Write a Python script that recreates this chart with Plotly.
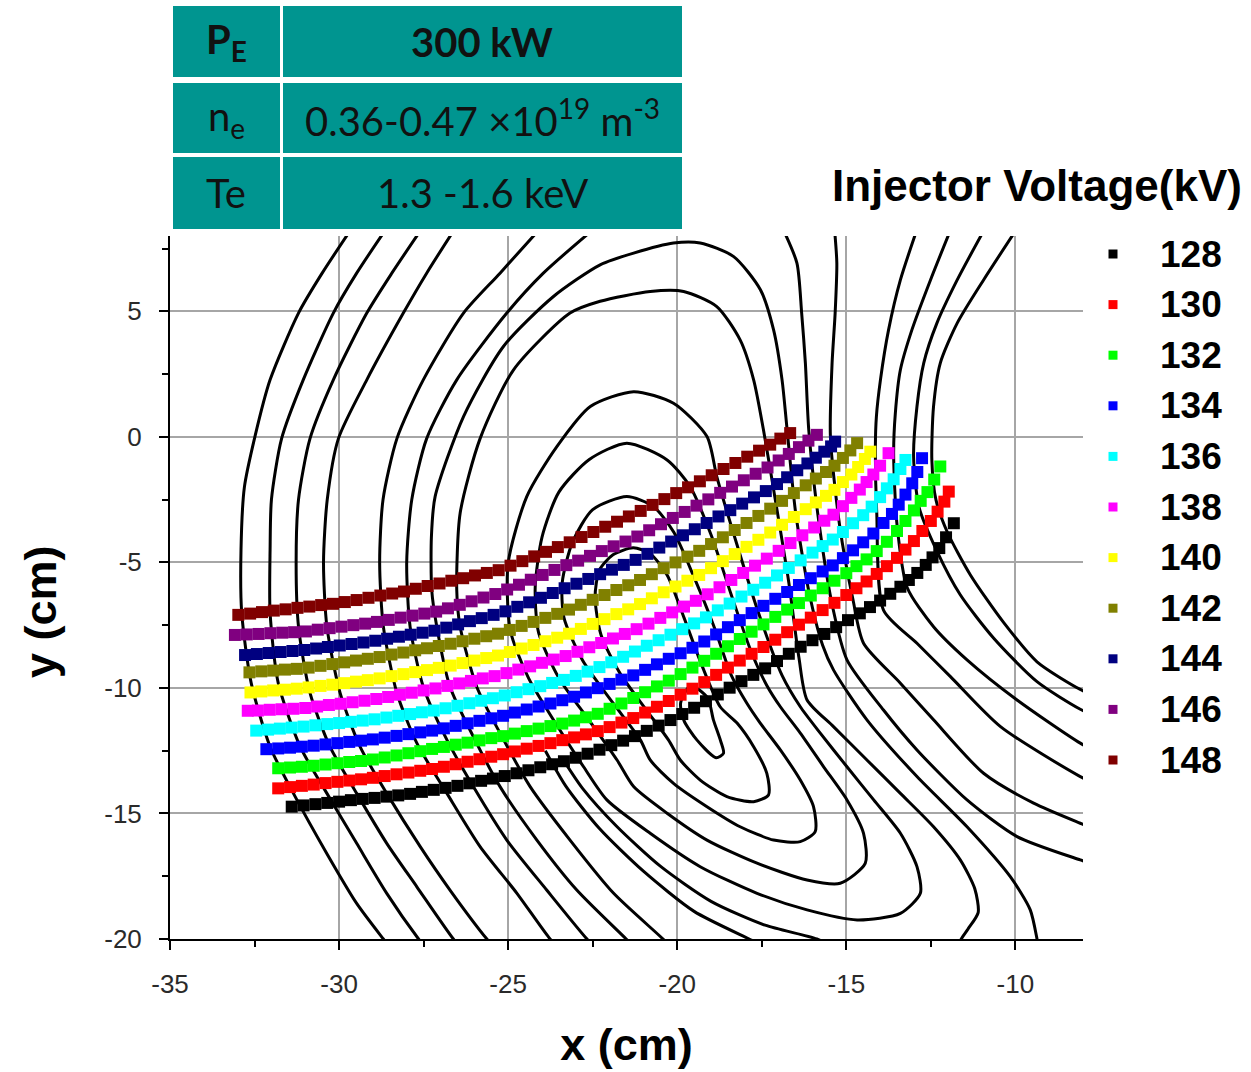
import plotly.graph_objects as go

# ---------------- data: injector voltage series (x, y in cm) ----------------
VOLTAGES = ["128", "130", "132", "134", "136", "138", "140", "142", "144", "146", "148"]
COLORS = ["#000000", "#ff0000", "#00ff00", "#0000ff", "#00ffff", "#ff00ff",
          "#ffff00", "#808000", "#000080", "#800080", "#800000"]

S128 = [(-31.4,-14.73),(-31.05,-14.68),(-30.7,-14.63),(-30.35,-14.58),(-30.0,-14.53),(-29.65,-14.47),
        (-29.3,-14.42),(-28.95,-14.38),(-28.6,-14.33),(-28.25,-14.28),(-27.9,-14.22),(-27.55,-14.14),
        (-27.2,-14.06),(-26.85,-13.98),(-26.5,-13.90),(-26.15,-13.80),(-25.8,-13.70),(-25.45,-13.61),
        (-25.1,-13.51),(-24.75,-13.40),(-24.4,-13.28),(-24.05,-13.16),(-23.7,-13.04),(-23.35,-12.92),
        (-23.0,-12.78),(-22.65,-12.62),(-22.3,-12.46),(-21.95,-12.28),(-21.6,-12.10),(-21.25,-11.92),
        (-20.9,-11.71),(-20.55,-11.50),(-20.2,-11.28),(-19.85,-11.04),(-19.5,-10.79),(-19.15,-10.53),
        (-18.8,-10.26),(-18.45,-9.99),(-18.1,-9.73),(-17.75,-9.48),(-17.4,-9.22),(-17.05,-8.93),
        (-16.7,-8.64),(-16.35,-8.36),(-16.0,-8.10),(-15.65,-7.85),(-15.3,-7.58),(-14.95,-7.30),
        (-14.6,-7.03),(-14.3,-6.78),(-14.0,-6.52),(-13.7,-6.25),(-13.4,-5.97),(-13.15,-5.70),
        (-12.9,-5.42),(-12.65,-5.10),(-12.45,-4.80),(-12.25,-4.43),(-12.05,-4.00),(-11.82,-3.44)]

S130 = [(-31.8,-14.00),(-31.45,-13.95),(-31.1,-13.90),(-30.75,-13.85),(-30.4,-13.79),(-30.05,-13.74),
        (-29.7,-13.69),(-29.35,-13.64),(-29.0,-13.58),(-28.65,-13.51),(-28.3,-13.44),(-27.95,-13.37),
        (-27.6,-13.30),(-27.25,-13.23),(-26.9,-13.14),(-26.55,-13.04),(-26.2,-12.94),(-25.85,-12.84),
        (-25.5,-12.74),(-25.15,-12.64),(-24.8,-12.53),(-24.45,-12.42),(-24.1,-12.31),(-23.75,-12.20),
        (-23.4,-12.08),(-23.05,-11.97),(-22.7,-11.85),(-22.35,-11.72),(-22.0,-11.56),(-21.65,-11.38),
        (-21.3,-11.20),(-20.95,-10.98),(-20.6,-10.75),(-20.25,-10.52),(-19.9,-10.27),(-19.55,-10.03),
        (-19.2,-9.77),(-18.85,-9.48),(-18.5,-9.19),(-18.15,-8.91),(-17.8,-8.64),(-17.45,-8.37),
        (-17.1,-8.08),(-16.75,-7.78),(-16.4,-7.48),(-16.05,-7.20),(-15.7,-6.90),(-15.35,-6.61),
        (-15.0,-6.30),(-14.7,-6.03),(-14.4,-5.76),(-14.1,-5.46),(-13.8,-5.15),(-13.5,-4.82),
        (-13.25,-4.49),(-13.0,-4.15),(-12.75,-3.75),(-12.5,-3.35),(-12.3,-2.98),(-12.1,-2.58),
        (-11.97,-2.18)]

S132 = [(-31.8,-13.20),(-31.45,-13.17),(-31.1,-13.14),(-30.75,-13.10),(-30.4,-13.05),(-30.05,-13.00),
        (-29.7,-12.95),(-29.35,-12.91),(-29.0,-12.85),(-28.65,-12.77),(-28.3,-12.69),(-27.95,-12.60),
        (-27.6,-12.52),(-27.25,-12.43),(-26.9,-12.35),(-26.55,-12.26),(-26.2,-12.18),(-25.85,-12.09),
        (-25.5,-12.00),(-25.15,-11.92),(-24.8,-11.82),(-24.45,-11.72),(-24.1,-11.62),(-23.75,-11.52),
        (-23.4,-11.42),(-23.05,-11.30),(-22.7,-11.17),(-22.35,-11.03),(-22.0,-10.83),(-21.65,-10.62),
        (-21.3,-10.40),(-20.95,-10.17),(-20.6,-9.94),(-20.25,-9.71),(-19.9,-9.45),(-19.55,-9.19),
        (-19.2,-8.92),(-18.85,-8.64),(-18.5,-8.34),(-18.15,-8.05),(-17.8,-7.76),(-17.45,-7.47),
        (-17.1,-7.17),(-16.75,-6.88),(-16.4,-6.62),(-16.05,-6.32),(-15.7,-6.03),(-15.35,-5.73),
        (-15.0,-5.43),(-14.7,-5.15),(-14.4,-4.88),(-14.1,-4.55),(-13.8,-4.18),(-13.5,-3.75),
        (-13.25,-3.35),(-13.0,-2.93),(-12.8,-2.55),(-12.6,-2.20),(-12.4,-1.70),(-12.22,-1.18)]

S134 = [(-32.15,-12.44),(-31.8,-12.41),(-31.45,-12.38),(-31.1,-12.34),(-30.75,-12.30),(-30.4,-12.25),
        (-30.05,-12.20),(-29.7,-12.15),(-29.35,-12.10),(-29.0,-12.05),(-28.65,-11.98),(-28.3,-11.91),
        (-27.95,-11.84),(-27.6,-11.77),(-27.25,-11.70),(-26.9,-11.61),(-26.55,-11.51),(-26.2,-11.41),
        (-25.85,-11.31),(-25.5,-11.21),(-25.15,-11.11),(-24.8,-10.98),(-24.45,-10.86),(-24.1,-10.74),
        (-23.75,-10.62),(-23.4,-10.49),(-23.05,-10.35),(-22.7,-10.18),(-22.35,-10.01),(-22.0,-9.84),
        (-21.65,-9.67),(-21.3,-9.50),(-20.95,-9.28),(-20.6,-9.06),(-20.25,-8.84),(-19.9,-8.62),
        (-19.55,-8.40),(-19.2,-8.15),(-18.85,-7.87),(-18.5,-7.58),(-18.15,-7.30),(-17.8,-7.02),
        (-17.45,-6.73),(-17.1,-6.45),(-16.75,-6.18),(-16.4,-5.90),(-16.05,-5.63),(-15.7,-5.36),
        (-15.4,-5.12),(-15.1,-4.83),(-14.8,-4.52),(-14.5,-4.20),(-14.2,-3.85),(-13.9,-3.43),
        (-13.65,-3.07),(-13.45,-2.70),(-13.25,-2.30),(-13.05,-1.85),(-12.9,-1.40),(-12.76,-0.85)]

S136 = [(-32.45,-11.70),(-32.1,-11.66),(-31.75,-11.62),(-31.4,-11.58),(-31.05,-11.54),(-30.7,-11.49),
        (-30.35,-11.44),(-30.0,-11.40),(-29.65,-11.35),(-29.3,-11.30),(-28.95,-11.25),(-28.6,-11.18),
        (-28.25,-11.11),(-27.9,-11.04),(-27.55,-10.97),(-27.2,-10.90),(-26.85,-10.81),(-26.5,-10.71),
        (-26.15,-10.61),(-25.8,-10.51),(-25.45,-10.41),(-25.1,-10.30),(-24.75,-10.17),(-24.4,-10.05),
        (-24.05,-9.93),(-23.7,-9.80),(-23.35,-9.68),(-23.0,-9.52),(-22.65,-9.35),(-22.3,-9.17),
        (-21.95,-8.98),(-21.6,-8.76),(-21.25,-8.55),(-20.9,-8.32),(-20.55,-8.10),(-20.2,-7.88),
        (-19.85,-7.66),(-19.5,-7.43),(-19.15,-7.19),(-18.8,-6.91),(-18.45,-6.64),(-18.1,-6.36),
        (-17.75,-6.09),(-17.4,-5.81),(-17.05,-5.52),(-16.7,-5.22),(-16.35,-4.92),(-16.0,-4.61),
        (-15.7,-4.35),(-15.4,-4.09),(-15.1,-3.79),(-14.8,-3.44),(-14.5,-3.12),(-14.25,-2.78),
        (-14.0,-2.40),(-13.8,-2.05),(-13.6,-1.69),(-13.4,-1.28),(-13.25,-0.92)]

S138 = [(-32.7,-10.91),(-32.4,-10.90),(-32.05,-10.87),(-31.7,-10.85),(-31.35,-10.83),(-31.0,-10.80),
        (-30.65,-10.74),(-30.3,-10.68),(-29.95,-10.63),(-29.6,-10.57),(-29.25,-10.51),(-28.9,-10.44),
        (-28.55,-10.36),(-28.2,-10.27),(-27.85,-10.19),(-27.5,-10.10),(-27.15,-10.02),(-26.8,-9.92),
        (-26.45,-9.82),(-26.1,-9.72),(-25.75,-9.62),(-25.4,-9.53),(-25.05,-9.41),(-24.7,-9.27),
        (-24.35,-9.14),(-24.0,-9.00),(-23.65,-8.87),(-23.3,-8.73),(-22.95,-8.56),(-22.6,-8.38),
        (-22.25,-8.21),(-21.9,-8.03),(-21.55,-7.85),(-21.2,-7.66),(-20.85,-7.44),(-20.5,-7.21),
        (-20.15,-6.99),(-19.8,-6.76),(-19.45,-6.53),(-19.1,-6.27),(-18.75,-5.99),(-18.4,-5.70),
        (-18.05,-5.42),(-17.7,-5.13),(-17.35,-4.85),(-17.0,-4.54),(-16.65,-4.23),(-16.3,-3.92),
        (-15.95,-3.61),(-15.65,-3.34),(-15.38,-3.10),(-15.1,-2.76),(-14.85,-2.43),(-14.6,-2.10),
        (-14.4,-1.80),(-14.2,-1.50),(-14.0,-1.15),(-13.75,-0.65)]

S140 = [(-32.62,-10.18),(-32.3,-10.14),(-31.95,-10.10),(-31.6,-10.07),(-31.25,-10.03),(-30.9,-9.98),
        (-30.55,-9.92),(-30.2,-9.87),(-29.85,-9.81),(-29.5,-9.75),(-29.15,-9.69),(-28.8,-9.62),
        (-28.45,-9.53),(-28.1,-9.45),(-27.75,-9.37),(-27.4,-9.29),(-27.05,-9.20),(-26.7,-9.11),
        (-26.35,-9.01),(-26.0,-8.91),(-25.65,-8.81),(-25.3,-8.71),(-24.95,-8.57),(-24.6,-8.43),
        (-24.25,-8.29),(-23.9,-8.14),(-23.55,-8.00),(-23.2,-7.84),(-22.85,-7.65),(-22.5,-7.45),
        (-22.15,-7.26),(-21.8,-7.06),(-21.45,-6.87),(-21.1,-6.66),(-20.75,-6.43),(-20.4,-6.19),
        (-20.05,-5.96),(-19.7,-5.73),(-19.35,-5.50),(-19.0,-5.23),(-18.65,-4.95),(-18.3,-4.67),
        (-17.95,-4.38),(-17.6,-4.10),(-17.25,-3.81),(-16.9,-3.50),(-16.55,-3.19),(-16.2,-2.88),
        (-15.9,-2.61),(-15.6,-2.35),(-15.35,-2.11),(-15.1,-1.80),(-14.85,-1.50),(-14.65,-1.20),
        (-14.45,-0.88),(-14.29,-0.59)]

S142 = [(-32.65,-9.38),(-32.3,-9.34),(-31.95,-9.31),(-31.6,-9.27),(-31.25,-9.24),(-30.9,-9.19),
        (-30.55,-9.12),(-30.2,-9.05),(-29.85,-8.98),(-29.5,-8.91),(-29.15,-8.84),(-28.8,-8.77),
        (-28.45,-8.67),(-28.1,-8.59),(-27.75,-8.50),(-27.4,-8.42),(-27.05,-8.33),(-26.7,-8.24),
        (-26.35,-8.14),(-26.0,-8.04),(-25.65,-7.94),(-25.3,-7.84),(-24.95,-7.69),(-24.6,-7.53),
        (-24.25,-7.37),(-23.9,-7.21),(-23.55,-7.05),(-23.2,-6.88),(-22.85,-6.69),(-22.5,-6.49),
        (-22.15,-6.30),(-21.8,-6.10),(-21.45,-5.91),(-21.1,-5.70),(-20.75,-5.47),(-20.4,-5.23),
        (-20.05,-5.00),(-19.7,-4.77),(-19.35,-4.54),(-19.0,-4.27),(-18.65,-4.00),(-18.3,-3.71),
        (-17.95,-3.43),(-17.6,-3.15),(-17.25,-2.86),(-16.9,-2.55),(-16.55,-2.24),(-16.2,-1.93),
        (-15.9,-1.66),(-15.6,-1.40),(-15.35,-1.15),(-15.1,-0.84),(-14.88,-0.54),(-14.68,-0.25)]

S144 = [(-32.78,-8.69),(-32.43,-8.65),(-32.08,-8.61),(-31.73,-8.57),(-31.38,-8.53),(-31.03,-8.49),
        (-30.68,-8.43),(-30.33,-8.37),(-29.98,-8.31),(-29.63,-8.25),(-29.28,-8.19),(-28.93,-8.12),
        (-28.58,-8.04),(-28.23,-7.96),(-27.88,-7.88),(-27.53,-7.80),(-27.18,-7.72),(-26.83,-7.60),
        (-26.48,-7.47),(-26.13,-7.34),(-25.78,-7.22),(-25.43,-7.09),(-25.08,-6.95),(-24.73,-6.77),
        (-24.38,-6.59),(-24.03,-6.41),(-23.68,-6.22),(-23.33,-6.03),(-22.98,-5.85),(-22.63,-5.66),
        (-22.28,-5.47),(-21.93,-5.29),(-21.58,-5.10),(-21.23,-4.90),(-20.88,-4.66),(-20.53,-4.41),
        (-20.18,-4.17),(-19.83,-3.92),(-19.48,-3.68),(-19.13,-3.43),(-18.78,-3.17),(-18.43,-2.92),
        (-18.08,-2.66),(-17.73,-2.41),(-17.38,-2.16),(-17.05,-1.88),(-16.75,-1.61),(-16.45,-1.33),
        (-16.15,-1.06),(-15.9,-0.83),(-15.65,-0.59),(-15.45,-0.38),(-15.33,-0.19)]

S146 = [(-33.08,-7.89),(-32.73,-7.87),(-32.38,-7.85),(-32.03,-7.82),(-31.68,-7.80),(-31.33,-7.78),
        (-30.98,-7.75),(-30.63,-7.68),(-30.28,-7.62),(-29.93,-7.56),(-29.58,-7.50),(-29.23,-7.44),
        (-28.88,-7.37),(-28.53,-7.29),(-28.18,-7.20),(-27.83,-7.12),(-27.48,-7.04),(-27.13,-6.96),
        (-26.78,-6.83),(-26.43,-6.69),(-26.08,-6.55),(-25.73,-6.40),(-25.38,-6.26),(-25.03,-6.08),
        (-24.68,-5.89),(-24.33,-5.69),(-23.98,-5.50),(-23.63,-5.30),(-23.28,-5.11),(-22.93,-4.93),
        (-22.58,-4.74),(-22.23,-4.55),(-21.88,-4.36),(-21.53,-4.17),(-21.18,-3.97),(-20.83,-3.72),
        (-20.48,-3.48),(-20.13,-3.23),(-19.78,-2.99),(-19.43,-2.74),(-19.08,-2.49),(-18.73,-2.23),
        (-18.38,-1.98),(-18.03,-1.73),(-17.68,-1.47),(-17.33,-1.22),(-17.0,-0.94),(-16.7,-0.68),
        (-16.4,-0.41),(-16.12,-0.15),(-15.87,0.08)]

S148 = [(-32.98,-7.09),(-32.63,-7.04),(-32.28,-6.98),(-31.93,-6.92),(-31.58,-6.87),(-31.23,-6.81),
        (-30.88,-6.76),(-30.53,-6.70),(-30.18,-6.65),(-29.83,-6.58),(-29.48,-6.50),(-29.13,-6.41),
        (-28.78,-6.32),(-28.43,-6.24),(-28.08,-6.16),(-27.73,-6.05),(-27.38,-5.94),(-27.03,-5.84),
        (-26.68,-5.73),(-26.33,-5.63),(-25.98,-5.52),(-25.63,-5.42),(-25.28,-5.31),(-24.93,-5.13),
        (-24.58,-4.95),(-24.23,-4.76),(-23.88,-4.58),(-23.53,-4.39),(-23.18,-4.20),(-22.83,-3.99),
        (-22.48,-3.79),(-22.13,-3.58),(-21.78,-3.38),(-21.43,-3.17),(-21.08,-2.95),(-20.73,-2.71),
        (-20.38,-2.48),(-20.03,-2.24),(-19.68,-2.01),(-19.33,-1.77),(-18.98,-1.53),(-18.63,-1.28),
        (-18.28,-1.04),(-17.93,-0.79),(-17.58,-0.55),(-17.25,-0.31),(-16.95,-0.07),(-16.66,0.15)]

SERIES = [S128, S130, S132, S134, S136, S138, S140, S142, S144, S146, S148]

# ---------------- data: background field lines (traced, cm) ----------------
C1 = [(-29.63,8.3),(-30.51,6.5),(-31.2,4.93),(-32.04,2.27),(-32.49,0.0),(-32.8,-2.0),(-32.9,-4.5),
      (-32.88,-7.0),(-32.6,-9.8),(-32.04,-12.34),(-31.35,-14.2),(-30.36,-16.6),(-29.48,-18.58),
      (-28.69,-20.0),(-28.4,-20.5)]
C2 = [(-28.6,8.3),(-29.48,6.52),(-30.17,4.93),(-31.06,2.27),(-31.7,-0.07),(-32.0,-2.5),(-32.04,-4.5),
      (-32.04,-7.0),(-31.8,-9.8),(-31.15,-12.34),(-30.36,-14.2),(-29.48,-16.19),(-28.59,-18.18),
      (-27.65,-20.0),(-27.35,-20.5)]
C3 = [(-27.55,8.3),(-28.44,6.52),(-29.18,4.93),(-30.17,2.27),(-30.86,-0.07),(-31.2,-2.5),(-31.27,-5.0),
      (-31.2,-7.56),(-30.86,-10.2),(-30.27,-12.34),(-29.48,-14.2),(-28.59,-16.19),(-27.70,-17.92),
      (-26.62,-20.0),(-26.3,-20.5)]
C4 = [(-26.57,8.3),(-27.41,6.52),(-28.10,4.93),(-29.18,2.27),(-30.02,-0.07),(-30.35,-2.5),(-30.46,-5.0),
      (-30.36,-7.56),(-29.97,-10.2),(-29.38,-12.34),(-28.59,-14.2),(-27.6,-16.32),(-26.72,-18.05),
      (-25.63,-20.0),(-25.3,-20.5)]
C5 = [(-24.05,8.3),(-25.24,6.52),(-26.32,4.93),(-27.51,2.27),(-28.29,-0.07),(-28.7,-2.5),(-28.8,-5.0),
      (-28.69,-7.56),(-28.29,-10.2),(-27.70,-12.2),(-26.81,-14.2),(-25.83,-16.32),(-24.74,-18.18),
      (-23.76,-20.0),(-23.4,-20.5)]
C6 = [(-22.45,8.3),(-23.96,6.52),(-25.04,4.93),(-26.52,2.27),(-27.41,-0.07),(-27.85,-2.5),(-28.0,-5.0),
      (-27.9,-7.56),(-27.51,-9.95),(-26.81,-12.07),(-26.03,-13.93),(-25.04,-16.06),(-23.86,-18.05),
      (-22.67,-20.0),(-22.3,-20.5)]
CA = [(-21.14,-20.5),(-21.51,-20.0),(-22.97,-18.05),(-24.15,-16.06),(-25.24,-13.93),(-26.03,-11.94),
      (-26.72,-9.95),(-27.11,-7.56),(-27.26,-6.1),(-27.27,-4.0),(-27.16,-2.38),(-26.32,0.81),
      (-25.14,3.6),(-23.66,5.59),(-22.28,6.85),(-21.29,7.32),(-20.11,7.72),(-19.32,7.72),(-18.33,7.18),
      (-17.54,5.86),(-17.15,4.26),(-16.9,2.27),(-16.75,0.28),(-16.5,-3.0),(-16.1,-6.2),(-15.7,-8.3),
      (-15.38,-9.28),(-14.39,-11.27),(-12.91,-13.53),(-11.43,-15.53),(-10.15,-17.52),(-9.56,-18.84),
      (-9.36,-20.0),(-9.3,-20.5)]
CB = [(-20.05,-20.5),(-20.42,-20.0),(-21.88,-18.18),(-23.17,-16.06),(-24.35,-13.93),(-25.24,-11.8),
      (-25.93,-9.95),(-26.42,-7.56),(-26.52,-6.1),(-26.42,-3.04),(-25.83,-0.07),(-24.84,2.67),
      (-23.17,4.93),(-22.28,5.4),(-20.8,5.79),(-19.81,5.79),(-18.83,5.19),(-18.14,3.86),(-17.74,2.27),
      (-17.45,0.28),(-17.1,-2.5),(-16.7,-5.8),(-16.4,-8.8),(-16.16,-10.48),(-15.38,-11.54),
      (-14.39,-12.87),(-13.4,-14.2),(-12.42,-15.53),(-11.63,-16.85),(-11.2,-18.0),(-11.1,-18.95),
      (-11.4,-19.6),(-11.6,-20.0),(-11.75,-20.5)]
CC = [(-21.29,1.8),(-20.11,1.34),(-19.12,0.01),(-18.83,-1.58),(-18.3,-4.0),(-17.6,-7.0),(-16.9,-9.5),
      (-16.36,-10.75),(-15.77,-11.8),(-14.98,-13.14),(-14.19,-14.46),(-13.4,-15.79),(-12.91,-17.12),
      (-12.81,-18.18),(-13.4,-18.98),(-14.68,-19.24),(-16.16,-18.84),(-17.64,-18.18),(-19.32,-17.12),
      (-20.8,-15.79),(-22.08,-14.46),(-22.77,-13.14),(-23.6,-11.4),(-24.4,-9.6),(-24.94,-7.69),
      (-25.0,-5.03),(-24.45,-2.38),(-23.56,-0.39),(-22.57,1.21),(-21.29,1.8)]
CD = [(-21.49,-0.25),(-20.3,-0.92),(-19.62,-1.98),(-19.0,-3.9),(-18.4,-6.3),(-17.8,-8.6),(-17.35,-9.9),
      (-16.95,-10.75),(-16.36,-11.8),(-15.67,-13.14),(-14.98,-14.46),(-14.49,-15.79),(-14.44,-16.99),
      (-15.18,-17.78),(-16.16,-17.65),(-17.64,-16.98),(-19.12,-16.06),(-20.3,-14.99),(-21.29,-13.93),
      (-21.78,-12.87),(-22.6,-11.3),(-23.5,-9.6),(-24.1,-7.8),(-24.2,-6.0),(-24.0,-4.0),(-23.5,-2.2),
      (-22.6,-0.9),(-21.49,-0.25)]
CE = [(-21.49,-2.38),(-20.7,-2.78),(-20.1,-3.8),(-19.5,-5.6),(-18.9,-7.6),(-18.4,-9.5),(-17.94,-10.61),
      (-17.54,-11.41),(-16.95,-12.47),(-16.36,-13.67),(-15.97,-14.73),(-15.92,-15.72),(-16.36,-16.12),
      (-17.15,-16.06),(-18.14,-15.53),(-19.12,-14.73),(-20.11,-13.8),(-20.8,-12.87),(-21.09,-12.07),
      (-21.9,-10.6),(-22.8,-8.9),(-23.35,-7.2),(-23.4,-5.8),(-23.1,-4.2),(-22.5,-2.9),(-21.49,-2.38)]
CF = [(-21.3,-4.42),(-20.8,-4.65),(-20.3,-5.5),(-19.8,-7.2),(-19.3,-9.0),(-18.73,-10.75),(-18.23,-11.4),
      (-17.74,-12.34),(-17.35,-13.4),(-17.3,-14.26),(-17.74,-14.53),(-18.53,-14.33),(-19.32,-13.67),
      (-19.91,-12.87),(-20.26,-12.07),(-20.9,-10.9),(-21.7,-9.4),(-22.25,-7.9),(-22.43,-6.4),
      (-22.3,-5.3),(-21.9,-4.7),(-21.3,-4.42)]
CU1 = [(-19.6,-9.9),(-19.1,-10.4),(-18.93,-11.27),(-18.72,-12.1),(-18.63,-12.6),(-18.85,-12.78),
       (-19.42,-12.07),(-19.8,-11.3),(-19.9,-10.6),(-19.6,-9.9)]
R1 = [(-16.88,8.3),(-16.46,6.92),(-16.32,4.93),(-16.21,2.94),(-16.11,0.28),(-15.8,-3.5),(-15.4,-6.8),
      (-14.98,-8.88),(-13.9,-10.88),(-12.91,-12.47),(-11.43,-14.46),(-9.95,-15.92),(-8.08,-16.85),
      (-7.5,-17.1)]
R2 = [(-15.35,8.3),(-15.28,6.92),(-15.33,4.93),(-15.42,2.94),(-15.47,0.01),(-15.2,-3.5),(-14.8,-6.5),
      (-14.49,-8.22),(-13.4,-9.81),(-12.42,-11.27),(-10.94,-13.4),(-9.46,-14.59),(-8.08,-15.39),
      (-7.5,-15.7)]
R3 = [(-12.9,8.3),(-13.40,6.25),(-13.75,4.26),(-13.99,2.27),(-14.11,0.81),(-14.14,-0.39),(-14.1,-3.0),
      (-13.9,-6.9),(-12.91,-8.22),(-11.92,-9.55),(-10.44,-11.54),(-8.08,-13.53),(-7.5,-13.9)]
R4 = [(-11.9,8.3),(-12.51,6.25),(-13.06,4.26),(-13.40,2.67),(-13.55,0.94),(-13.60,-0.65),(-13.5,-3.5),
      (-13.2,-6.0),(-12.42,-7.56),(-11.43,-8.88),(-9.95,-10.48),(-8.08,-12.2),(-7.5,-12.6)]
R5 = [(-10.9,8.3),(-11.72,6.25),(-12.32,4.53),(-12.71,2.94),(-12.91,1.21),(-13.01,-0.78),(-12.85,-2.8),
      (-12.32,-4.55),(-11.63,-6.29),(-10.64,-8.02),(-9.36,-9.75),(-8.08,-10.85),(-7.5,-11.2)]
R6 = [(-9.95,8.3),(-10.94,6.25),(-11.72,4.53),(-12.22,2.94),(-12.42,1.21),(-12.47,-0.92),(-12.35,-2.5),
      (-12.02,-3.77),(-11.33,-5.5),(-10.35,-7.39),(-9.36,-8.96),(-8.08,-10.06),(-7.5,-10.4)]
LA = [(-17.1,-20.5),(-17.87,-20.0),(-19.5,-18.9),(-21.0,-17.3),(-22.3,-15.6),(-23.3,-13.9),(-23.9,-12.5)]
LB = [(-15.1,-20.5),(-15.87,-20.0),(-17.4,-19.45),(-19.0,-18.5),(-20.5,-17.1),(-21.8,-15.5),
      (-22.8,-14.0),(-23.4,-12.8)]

CONTOURS = [C1, C2, C3, C4, C5, C6, CA, CB, CC, CD, CE, CF, CU1, R1, R2, R3, R4, R5, R6, LA, LB]

X_TICKS = [-35, -30, -25, -20, -15, -10]
Y_TICKS = [-20, -15, -10, -5, 0, 5]

# ---------------- figure ----------------
fig = go.Figure()
for c in CONTOURS:
    fig.add_trace(go.Scatter(
        x=[p[0] for p in c], y=[p[1] for p in c], mode="lines",
        line=dict(color="black", width=3, shape="spline", smoothing=0.7),
        hoverinfo="skip", showlegend=False))

for v, col, s in zip(VOLTAGES, COLORS, SERIES):
    fig.add_trace(go.Scatter(
        x=[p[0] for p in s], y=[p[1] for p in s], mode="markers", name=v,
        marker=dict(symbol="square", size=12, color=col, line=dict(width=0)),
        showlegend=False))

TICKFONT = dict(family="Liberation Sans Narrow, Arial Narrow, Liberation Sans, Arial", size=26, color="#2a2a2a")
TITLEFONT = dict(family="Liberation Sans, Arial", size=45, color="black")

fig.update_xaxes(
    range=[-35, -8], tickvals=X_TICKS, ticktext=[str(t) for t in X_TICKS],
    showgrid=True, gridcolor="#a6a6a6", gridwidth=1.6, zeroline=False,
    showline=True, linecolor="black", linewidth=2,
    ticks="outside", ticklen=9, tickwidth=1.6, tickcolor="black",
    minor=dict(ticks="outside", ticklen=6, tickwidth=1.6, tickcolor="black",
               tick0=-35, dtick=2.5, showgrid=False),
    tickfont=TICKFONT, ticklabelstandoff=12,
    title=dict(text="<b>x (cm)</b>", font=TITLEFONT, standoff=30), automargin=False)
fig.update_yaxes(
    range=[-20, 8], tickvals=Y_TICKS, ticktext=[str(t) for t in Y_TICKS],
    showgrid=True, gridcolor="#a6a6a6", gridwidth=1.6, zeroline=False,
    showline=True, linecolor="black", linewidth=2,
    ticks="outside", ticklen=9, tickwidth=1.6, tickcolor="black",
    minor=dict(ticks="outside", ticklen=6, tickwidth=1.6, tickcolor="black",
               tick0=-20, dtick=2.5, showgrid=False),
    tickfont=TICKFONT, ticklabelstandoff=12, automargin=False)

W, H = 1251, 1072
ML, MR, MT, MB = 170, 168, 236, 133
PW, PH = W - ML - MR, H - MT - MB


def px(xp):
    return (xp - ML) / PW


def py(yp):
    return (H - MB - yp) / PH


shapes = []
annotations = []

# y-axis title (placed to match the reference)
annotations.append(dict(xref="paper", yref="paper", x=px(40), y=py(612), text="<b>y (cm)</b>",
                        textangle=-90, showarrow=False, font=TITLEFONT,
                        xanchor="center", yanchor="middle"))

# parameter table (top-left)
TEAL = "#009590"
CELL_COLS = [(173, 280), (283, 682)]
CELL_ROWS = [(6, 77), (83, 153), (157, 229)]
for (y0, y1) in CELL_ROWS:
    for (x0, x1) in CELL_COLS:
        shapes.append(dict(type="rect", xref="paper", yref="paper",
                           x0=px(x0), x1=px(x1), y0=py(y1), y1=py(y0),
                           fillcolor=TEAL, line=dict(width=0), layer="above"))
TABLE_TEXT = [
    ("<b>P<sub>E</sub></b>", "<b>300 kW</b>"),
    ("n<sub>e</sub>", "0.36-0.47 ×10<sup>19</sup> m<sup>-3</sup>"),
    ("Te", "1.3 -1.6 keV"),
]
CELL_FONT = dict(family="Lato, Open Sans, Liberation Sans", size=40, color="#111111")
for (left, right), (y0, y1) in zip(TABLE_TEXT, CELL_ROWS):
    yc = py((y0 + y1) / 2)
    annotations.append(dict(xref="paper", yref="paper", x=px(226), y=yc, text=left,
                            showarrow=False, font=CELL_FONT, xanchor="center", yanchor="middle"))
    annotations.append(dict(xref="paper", yref="paper", x=px(482), y=yc, text=right,
                            showarrow=False, font=CELL_FONT, xanchor="center", yanchor="middle"))

# legend (drawn manually to match placement)
annotations.append(dict(xref="paper", yref="paper", x=px(1037), y=py(185),
                        text="<b>Injector Voltage(kV)</b>", showarrow=False,
                        font=dict(family="Liberation Sans, Arial", size=44, color="black"),
                        xanchor="center", yanchor="middle"))
for i, (v, col) in enumerate(zip(VOLTAGES, COLORS)):
    yc = 254 + i * 50.6
    shapes.append(dict(type="rect", xref="paper", yref="paper",
                       x0=px(1108.5), x1=px(1117.5), y0=py(yc + 4.5), y1=py(yc - 4.5),
                       fillcolor=col, line=dict(width=0)))
    annotations.append(dict(xref="paper", yref="paper", x=px(1158), y=py(yc), text=f"<b>{v}</b>",
                            showarrow=False, font=dict(family="Liberation Sans, Arial", size=37, color="black"),
                            xanchor="left", yanchor="middle"))

fig.update_layout(
    width=W, height=H, margin=dict(l=ML, r=MR, t=MT, b=MB, autoexpand=False),
    plot_bgcolor="white", paper_bgcolor="white", showlegend=False,
    shapes=shapes, annotations=annotations)

fig.write_html("out.html")
